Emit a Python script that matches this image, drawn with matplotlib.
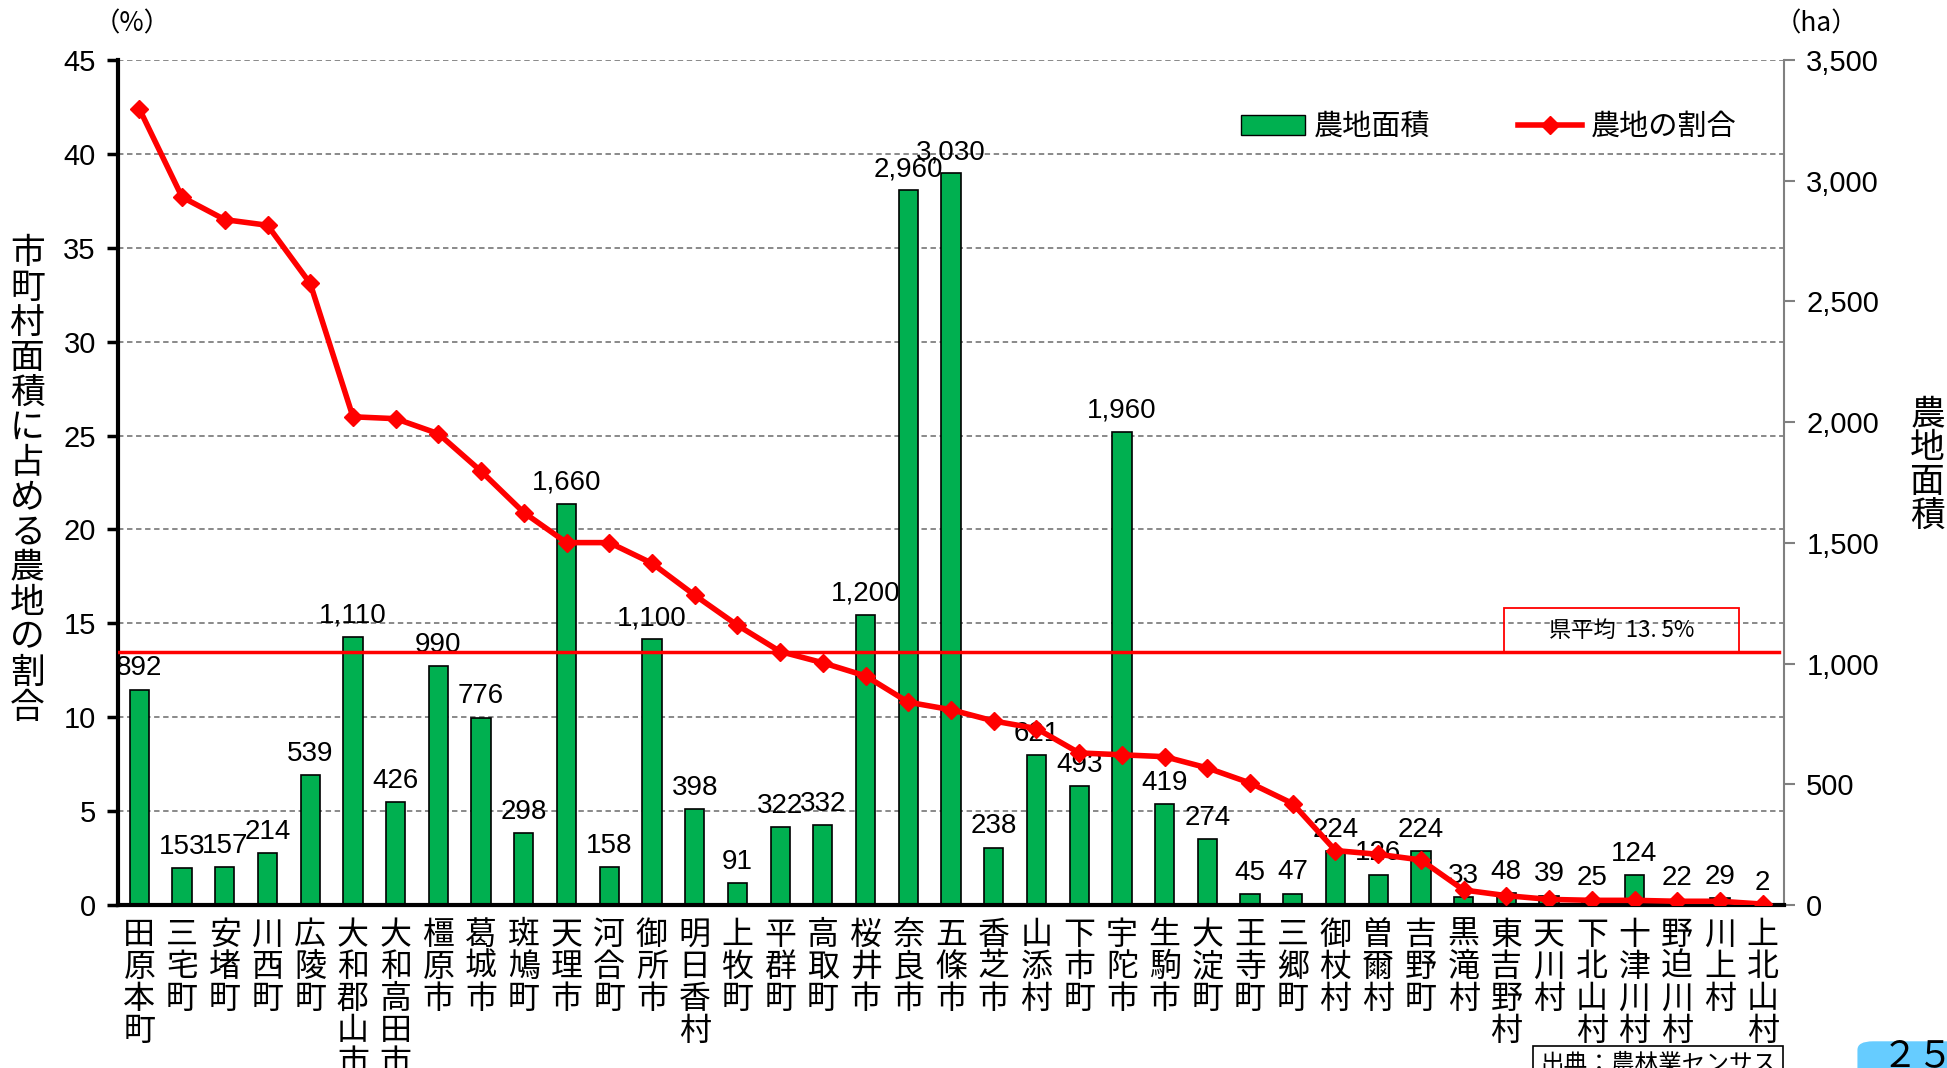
import matplotlib
matplotlib.use("Agg")
import matplotlib.pyplot as plt
from matplotlib.patches import Rectangle, FancyBboxPatch
from matplotlib.lines import Line2D
from matplotlib.patches import Patch

plt.rcParams['font.family'] = ['Noto Sans CJK JP', 'DejaVu Sans']

# data
towns = ["田原本町", "三宅町", "安堵町", "川西町", "広陵町", "大和郡山市", "大和高田市",
         "橿原市", "葛城市", "斑鳩町", "天理市", "河合町", "御所市", "明日香村",
         "上牧町", "平群町", "高取町", "桜井市", "奈良市", "五條市", "香芝市",
         "山添村", "下市町", "宇陀市", "生駒市", "大淀町", "王寺町", "三郷町",
         "御杖村", "曽爾村", "吉野町", "黒滝村", "東吉野村", "天川村", "下北山村",
         "十津川村", "野迫川村", "川上村", "上北山村"]
farm_area = [892, 153, 157, 214, 539, 1110, 426, 990, 776, 298, 1660, 158, 1100, 398,
             91, 322, 332, 1200, 2960, 3030, 238, 621, 493, 1960, 419, 274, 45, 47,
             224, 126, 224, 33, 48, 39, 25, 124, 22, 29, 2]
farm_share = [42.4, 37.7, 36.5, 36.2, 33.1, 26.0, 25.9, 25.1, 23.1, 20.9, 19.3, 19.3,
              18.2, 16.5, 14.9, 13.5, 12.9, 12.2, 10.8, 10.4, 9.8, 9.4, 8.1, 8.0, 7.9,
              7.3, 6.5, 5.4, 2.9, 2.7, 2.4, 0.8, 0.5, 0.3, 0.25, 0.25, 0.2, 0.2, 0.05]
pref_avg = 13.5
left_ticks = [0, 5, 10, 15, 20, 25, 30, 35, 40, 45]
right_ticks = [0, 500, 1000, 1500, 2000, 2500, 3000, 3500]

fig = plt.figure(figsize=(19.47, 10.68), dpi=100)
ax_bar = fig.add_axes([0.0606, 0.1526, 0.8557, 0.7912])
ax_line = ax_bar.twinx()

x = list(range(len(towns)))

# bars (right scale)
ax_bar.set_ylim(0, 3500)
ax_bar.set_xlim(-0.5, len(towns) - 0.5)
for g in left_ticks[1:]:
    ax_bar.axhline(g / 45 * 3500, color='#808080', ls=(0, (3, 2)), lw=1.3, zorder=0)
bars = ax_bar.bar(x, farm_area, width=0.45, color='#00B050', edgecolor='black',
                  linewidth=1.2, zorder=2)
for xi, v in zip(x, farm_area):
    ax_bar.annotate(f"{v:,}", (xi, v), xytext=(0, 6), textcoords='offset points',
                    ha='center', va='bottom', fontsize=20, family='Liberation Sans')
ax_bar.yaxis.tick_right()
ax_bar.set_yticks(right_ticks)
ax_bar.set_yticklabels([f"{t:,}" for t in right_ticks], fontsize=21, family='Liberation Sans')
ax_bar.tick_params(axis='y', colors='#808080', length=8, width=1.5, labelcolor='black', pad=8)
ax_bar.set_xticks(x)
ax_bar.set_xticklabels(["\n".join(t) for t in towns], fontsize=23, linespacing=1.0,
                       va='top')
ax_bar.tick_params(axis='x', length=0, pad=10)
ax_bar.spines['top'].set_visible(False)
ax_bar.spines['left'].set_visible(False)
ax_bar.spines['right'].set_color('#808080')
ax_bar.spines['right'].set_linewidth(1.5)
ax_bar.spines['bottom'].set_linewidth(3)

# line (left scale)
ax_line.set_ylim(0, 45)
ax_line.yaxis.tick_left()
ax_line.set_yticks(left_ticks)
ax_line.set_yticklabels([str(t) for t in left_ticks], fontsize=21, family='Liberation Sans')
ax_line.tick_params(axis='y', length=8, width=2.5, pad=8)
for s in ['top', 'right', 'bottom']:
    ax_line.spines[s].set_visible(False)
ax_line.spines['left'].set_linewidth(3)
ax_line.plot(x, farm_share, color='#FF0000', lw=4, marker='D', markersize=9, zorder=5)
ax_line.axhline(pref_avg, xmin=0, xmax=0.997, color='#FF0000', lw=2.5, zorder=4)
ax_line.add_patch(Rectangle((0.832, pref_avg / 45), 0.141, 0.051, transform=ax_line.transAxes,
                            fill=False, ec='#FF0000', lw=1.3))
ax_line.text(0.9025, pref_avg / 45 + 0.0255, "県平均  13. 5%", transform=ax_line.transAxes,
             ha='center', va='center', fontsize=16)

# legend
handles = [Patch(facecolor='#00B050', edgecolor='black', label='農地面積'),
           Line2D([0], [0], color='#FF0000', lw=4, marker='D', markersize=9, label='農地の割合')]
fig.legend(handles=handles, loc='center left', bbox_to_anchor=(0.624, 0.881), ncol=2,
           frameon=False, fontsize=21, columnspacing=3.0, handlelength=2.2, handletextpad=0.3)

# axis titles
fig.text(0.014, 0.55, "\n".join("市町村面積に占める農地の割合"), ha='center', va='center',
         fontsize=25, linespacing=1.0)
fig.text(0.990, 0.564, "\n".join("農地面積"), ha='center', va='center', fontsize=25,
         linespacing=0.95)
fig.text(0.068, 0.978, "（%）", ha='center', va='center', fontsize=19)
fig.text(0.933, 0.978, "（ha）", ha='center', va='center', fontsize=19)

# source note and page number
fig.text(0.791, 0.014, "出典：農林業センサス", ha='left', va='top', fontsize=17,
         bbox=dict(boxstyle='square,pad=0.3', fc='white', ec='black', lw=1.2))
fig.patches.append(FancyBboxPatch((0.954, -0.02), 0.07, 0.045, transform=fig.transFigure,
                                  boxstyle='round,pad=0,rounding_size=0.008',
                                  fc='#66CCFF', ec='none'))
fig.text(0.985, -0.006, "２５", ha='center', va='bottom', fontsize=26)

fig.savefig("out.png", dpi=100)
